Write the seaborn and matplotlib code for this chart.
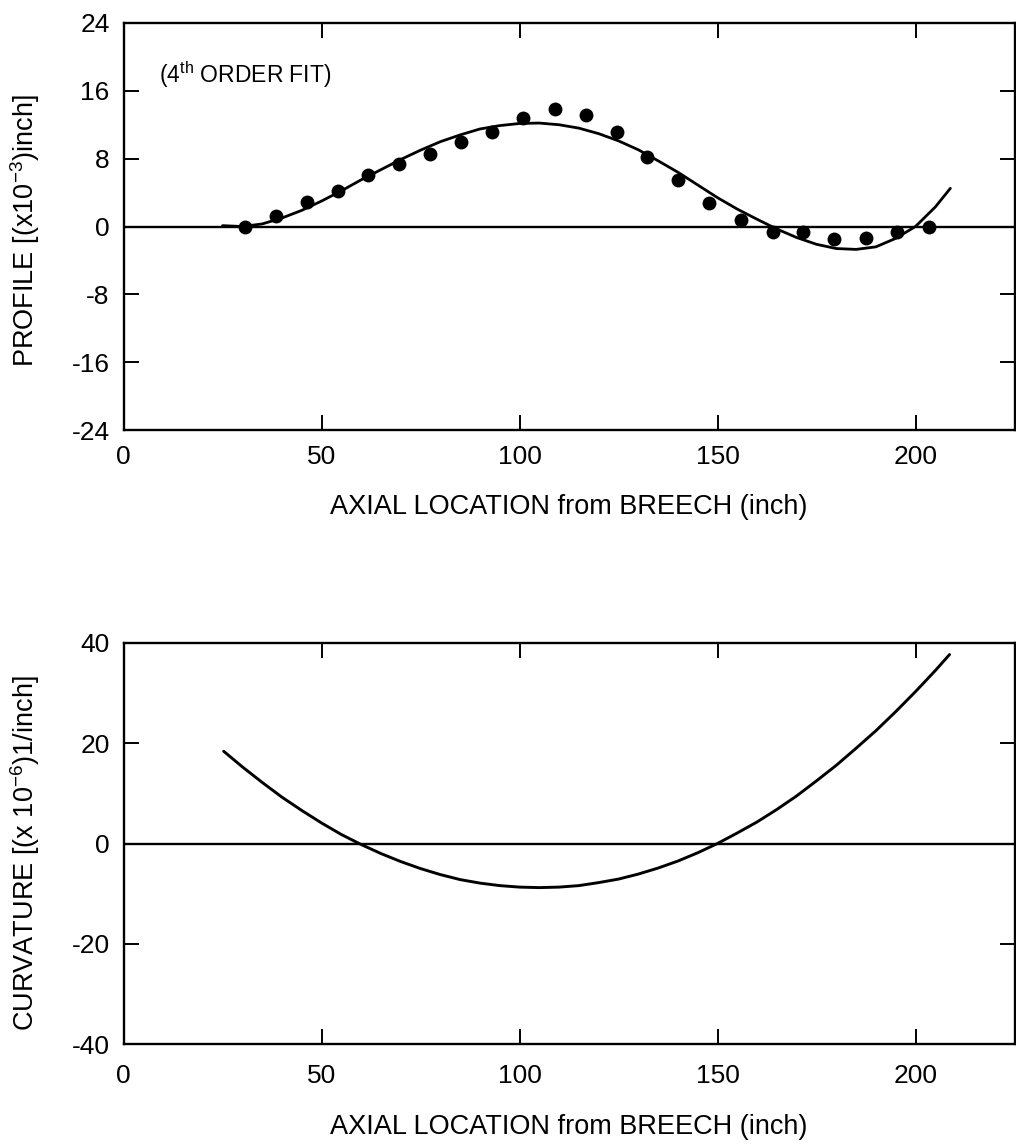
import matplotlib
matplotlib.use("Agg")
import matplotlib.pyplot as plt
import seaborn as sns
import pandas as pd

# ---------------- data ----------------
meas_x = [30.7, 38.5, 46.3, 54.1, 61.7, 69.6, 77.4, 85.2, 93.0, 100.8, 108.9,
          116.8, 124.6, 132.2, 140.0, 147.8, 155.9, 164.0, 171.5, 179.4,
          187.5, 195.3, 203.4]
meas_y = [0.0, 1.2, 2.9, 4.2, 6.1, 7.4, 8.5, 10.0, 11.1, 12.8, 13.8,
          13.1, 11.2, 8.2, 5.5, 2.8, 0.8, -0.6, -0.7, -1.5,
          -1.4, -0.7, -0.1]

fit_x = [25, 30, 35, 40, 45, 50, 55, 60, 65, 70, 75, 80, 85, 90, 95, 100,
         105, 110, 115, 120, 125, 130, 135, 140, 145, 150, 155, 160, 165,
         170, 175, 180, 185, 190, 195, 200, 205, 208.8]
fit_y = [0.1, 0.0, 0.3, 1.0, 1.9, 3.0, 4.2, 5.5, 6.7, 7.9, 9.0, 10.0, 10.8,
         11.5, 11.9, 12.15, 12.2, 12.0, 11.6, 10.95, 10.1, 9.05, 7.75, 6.4,
         4.9, 3.4, 2.05, 0.85, -0.3, -1.3, -2.1, -2.6, -2.7, -2.4, -1.4,
         0.0, 2.3, 4.5]

curv_x = [25.3, 30, 35, 40, 45, 50, 55, 60, 65, 70, 75, 80, 85, 90, 95, 100,
          105, 110, 115, 120, 125, 130, 135, 140, 145, 150, 155, 160, 165,
          170, 175, 180, 185, 190, 195, 200, 205, 208.6]
curv_y = [18.4, 15.3, 12.2, 9.25, 6.6, 4.1, 1.8, -0.2, -2.0, -3.6, -5.0,
          -6.2, -7.2, -7.9, -8.4, -8.7, -8.8, -8.7, -8.4, -7.8, -7.1, -6.1,
          -4.9, -3.5, -1.85, 0.0, 2.1, 4.3, 6.8, 9.5, 12.5, 15.6, 19.0, 22.5,
          26.3, 30.3, 34.5, 37.7]

x_ticks = [0, 50, 100, 150, 200]
prof_ticks = [-24, -16, -8, 0, 8, 16, 24]
curv_ticks = [-40, -20, 0, 20, 40]

x_label = "AXIAL LOCATION from BREECH (inch)"
prof_label = "PROFILE [(x10$^{\\mathregular{-3}}$)inch]"
curv_label = "CURVATURE [(x 10$^{\\mathregular{-6}}$)1/inch]"
fit_note = "(4$^{\\mathregular{th}}$ ORDER FIT)"

# ---------------- style ----------------
sns.set_style("ticks")
plt.rcParams["font.family"] = ["Liberation Sans", "DejaVu Sans"]
plt.rcParams["mathtext.fontset"] = "custom"
plt.rcParams["mathtext.rm"] = "Liberation Sans"
plt.rcParams["mathtext.it"] = "Liberation Sans:italic"
plt.rcParams["mathtext.bf"] = "Liberation Sans:bold"
plt.rcParams["axes.unicode_minus"] = False
plt.rcParams["text.color"] = "black"
plt.rcParams["axes.labelcolor"] = "black"
plt.rcParams["xtick.color"] = "black"
plt.rcParams["ytick.color"] = "black"
plt.rcParams["axes.edgecolor"] = "black"

W, H = 1016, 1146
fig = plt.figure(figsize=(W / 100, H / 100), dpi=100)
fig.patch.set_facecolor("white")

def px_axes(left, top, right, bottom):
    return fig.add_axes([left / W, 1 - bottom / H, (right - left) / W, (bottom - top) / H])

ax1 = px_axes(123.5, 23, 1014.5, 430)
ax2 = px_axes(123.5, 643, 1014.5, 1044)

df_meas = pd.DataFrame({"x": meas_x, "y": meas_y})
df_fit = pd.DataFrame({"x": fit_x, "y": fit_y})
df_curv = pd.DataFrame({"x": curv_x, "y": curv_y})

# top panel
ax1.axhline(0, color="black", lw=1.7, zorder=1)
sns.lineplot(data=df_fit, x="x", y="y", ax=ax1, color="black", lw=2.0,
             sort=False, zorder=2)
sns.scatterplot(data=df_meas, x="x", y="y", ax=ax1, color="black", s=100,
                edgecolor="black", linewidth=0, zorder=3)
ax1.set_ylim(-24, 24)
ax1.set_yticks(prof_ticks)
ax1.text(9.0, 17.9, fit_note, fontsize=16.5, va="center", ha="left", color="black")
ax1.set_ylabel(prof_label, fontsize=19.5, color="black")

# bottom panel
ax2.axhline(0, color="black", lw=1.7, zorder=1)
sns.lineplot(data=df_curv, x="x", y="y", ax=ax2, color="black", lw=2.1,
             sort=False, zorder=2)
ax2.set_ylim(-40, 40)
ax2.set_yticks(curv_ticks)
ax2.set_ylabel(curv_label, fontsize=19.5, color="black")

for ax, xpad, xlab_y, ylab_y in [(ax1, 10.5, -0.157, 0.49), (ax2, 14.5, -0.174, 0.475)]:
    ax.set_xlim(0, 225)
    ax.set_xticks(x_ticks)
    ax.set_xlabel(x_label, fontsize=19.5, color="black")
    ax.xaxis.set_label_coords(0.5, xlab_y)
    ax.yaxis.set_label_coords(-0.092, ylab_y)
    ax.tick_params(axis="both", which="major", direction="in", length=11,
                   width=1.4, labelsize=19, top=True, right=True,
                   color="black", labelcolor="black")
    ax.tick_params(axis="x", pad=xpad)
    ax.tick_params(axis="y", pad=10)
    for sp in ax.spines.values():
        sp.set_visible(True)
        sp.set_linewidth(1.7)
        sp.set_color("black")
    ax.set_facecolor("white")
    if ax.get_legend() is not None:
        ax.get_legend().remove()

fig.savefig("out.png", dpi=100, facecolor="white")
